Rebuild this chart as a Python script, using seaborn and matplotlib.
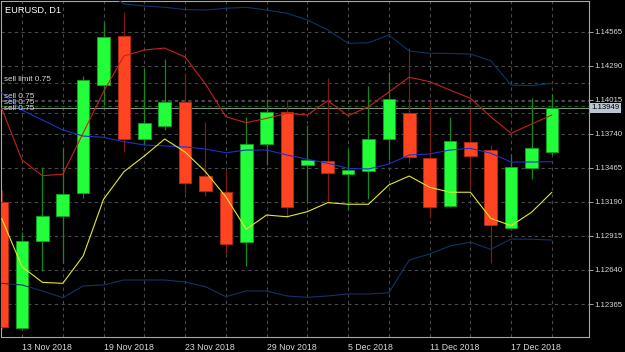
import matplotlib
matplotlib.use("Agg")
import matplotlib.pyplot as plt
import matplotlib.transforms as mtransforms
import seaborn as sns
import numpy as np

# ---------------- data ----------------
dates = ["12 Nov 2018", "13 Nov 2018", "14 Nov 2018", "15 Nov 2018", "16 Nov 2018",
         "19 Nov 2018", "20 Nov 2018", "21 Nov 2018", "22 Nov 2018", "23 Nov 2018",
         "26 Nov 2018", "27 Nov 2018", "28 Nov 2018", "29 Nov 2018", "30 Nov 2018",
         "3 Dec 2018", "4 Dec 2018", "5 Dec 2018", "6 Dec 2018", "7 Dec 2018",
         "10 Dec 2018", "11 Dec 2018", "12 Dec 2018", "13 Dec 2018", "14 Dec 2018",
         "17 Dec 2018", "18 Dec 2018", "19 Dec 2018"]

opens = [1.13192, 1.12174, 1.12877, 1.13074, 1.13259, 1.14134, 1.14530, 1.13698,
         1.13806, 1.14000, 1.13399, 1.13268, 1.12864, 1.13658, 1.13914, 1.13488,
         1.13520, 1.13413, 1.13440, 1.13696, 1.13906, 1.13545, 1.13159, 1.13674,
         1.13609, 1.12982, 1.13466, 1.13591]
highs = [1.13286, 1.12949, 1.13474, 1.13625, 1.14207, 1.14646, 1.14727, 1.14269,
         1.14342, 1.14229, 1.13838, 1.13442, 1.13878, 1.14019, 1.14013, 1.13811,
         1.14193, 1.13615, 1.14129, 1.14242, 1.14431, 1.14013, 1.13878, 1.13946,
         1.13650, 1.13577, 1.14027, 1.14059]
lows = [1.12163, 1.12163, 1.12634, 1.12696, 1.13221, 1.13973, 1.13596, 1.13650,
        1.13771, 1.13264, 1.13238, 1.12775, 1.12672, 1.13488, 1.13070, 1.13192,
        1.13192, 1.13125, 1.13211, 1.13528, 1.13507, 1.13058, 1.13151, 1.13308,
        1.12699, 1.12979, 1.13373, 1.13569]
closes = [1.12177, 1.12877, 1.13074, 1.13254, 1.14175, 1.14525, 1.13698, 1.13825,
          1.14000, 1.13345, 1.13276, 1.12847, 1.13658, 1.13919, 1.13151, 1.13528,
          1.13421, 1.13448, 1.13696, 1.14019, 1.13550, 1.13151, 1.13682, 1.13563,
          1.13003, 1.13474, 1.13623, 1.13949]

ma_red = [1.13946, 1.13528, 1.13402, 1.13413, 1.13747, 1.14080, 1.14369, 1.14417,
          1.14433, 1.14361, 1.14142, 1.13878, 1.13830, 1.13865, 1.13906, 1.13892,
          1.14008, 1.13886, 1.13959, 1.14078, 1.14197, 1.14161, 1.14094, 1.14027,
          1.13878, 1.13744, 1.13819, 1.13892]
bb_mid = [1.14072, 1.13932, 1.13852, 1.13771, 1.13722, 1.13712, 1.13676, 1.13650,
          1.13642, 1.13634, 1.13617, 1.13587, 1.13609, 1.13609, 1.13569, 1.13534,
          1.13502, 1.13461, 1.13456, 1.13496, 1.13569, 1.13577, 1.13609, 1.13623,
          1.13583, 1.13512, 1.13512, 1.13515]
bb_upper = [1.15613, 1.15346, 1.15233, 1.15128, 1.14934, 1.14902, 1.14789, 1.14773,
            1.14762, 1.14744, 1.14740, 1.14754, 1.14762, 1.14740, 1.14714, 1.14660,
            1.14579, 1.14471, 1.14476, 1.14538, 1.14409, 1.14391, 1.14389, 1.14385,
            1.14331, 1.14134, 1.14129, 1.14148]
bb_lower = [1.12532, 1.12519, 1.12470, 1.12416, 1.12511, 1.12519, 1.12559, 1.12559,
            1.12559, 1.12543, 1.12505, 1.12424, 1.12470, 1.12470, 1.12430, 1.12419,
            1.12430, 1.12446, 1.12446, 1.12456, 1.12721, 1.12769, 1.12834, 1.12864,
            1.12807, 1.12890, 1.12888, 1.12882]
ma_yellow = [1.13057, 1.12666, 1.12540, 1.12532, 1.12753, 1.13211, 1.13434, 1.13561,
             1.13698, 1.13593, 1.13434, 1.13232, 1.12969, 1.13084, 1.13070, 1.13111,
             1.13184, 1.13171, 1.13171, 1.13327, 1.13399, 1.13308, 1.13268, 1.13268,
             1.13057, 1.12998, 1.13106, 1.13268]

price_ticks = [1.12365, 1.12640, 1.12915, 1.13190, 1.13465, 1.13740, 1.14015, 1.14290, 1.14565]
current_price = 1.13949
order_prices = [1.14148, 1.14008, 1.13962, 1.13911]
order_labels = ["sell limit 0.75", "sell 0.75", "sell 0.75", "sell 0.75"]
title_text = "EURUSD, D1"

# ---------------- style ----------------
sns.set_style("dark", rc={"axes.facecolor": "black", "figure.facecolor": "black"})
plt.rcParams["font.family"] = ["Liberation Sans", "DejaVu Sans"]

BULL = "#22ff3a"
BULL_EDGE = "#12a020"
BULL_WICK = "#138a13"
BEAR = "#ff4422"
BEAR_EDGE = "#b02a14"
BEAR_WICK = "#7e1c10"
GRID = "#4a4a4a"
FRAME = "#a8a8a8"
TXT = "#d8d8d8"
FS = 6.3
FS_Y = 5.6
FS_ORD = 5.9

fig = plt.figure(figsize=(6.25, 3.52), dpi=100)
ax = fig.add_axes([1.5 / 625, 15 / 352, 587.5 / 625, 336 / 352])
ax.set_facecolor("black")

n = len(opens)
idx = np.arange(n)
ax.set_xlim(-0.007, 28.82)
ax.set_ylim(1.120985, 1.14813)

# grid
for p in price_ticks:
    ax.axhline(p, color=GRID, lw=0.8, ls=(0, (3, 3)), zorder=1)
for i in range(1, n, 2):
    ax.axvline(i, color=GRID, lw=0.8, ls=(0, (3, 3)), zorder=1)

# order lines + current price line
for p in order_prices:
    ax.axhline(p, color="#0e6e0e", lw=0.8, ls=(0, (3, 3)), zorder=1.5)
ax.axhline(current_price, color="#8a8a8a", lw=0.8, zorder=1.6)

# candles
o = np.array(opens); c = np.array(closes); h = np.array(highs); l = np.array(lows)
up = c >= o
for mask, wc in ((up, BULL_WICK), (~up, BEAR_WICK)):
    ax.vlines(idx[mask], l[mask], h[mask], color=wc, lw=0.9, zorder=2)
bottoms = np.minimum(o, c)
heights = np.abs(c - o)
ax.bar(idx[up], heights[up], bottom=bottoms[up], width=0.62, color=BULL,
       edgecolor=BULL_EDGE, linewidth=0.7, zorder=3)
ax.bar(idx[~up], heights[~up], bottom=bottoms[~up], width=0.62, color=BEAR,
       edgecolor=BEAR_EDGE, linewidth=0.7, zorder=3)

# indicators (drawn over the candles)
for series, col in ((bb_upper, "#0d3566"), (bb_lower, "#0d3566"),
                    (bb_mid, "#2030c8"), (ma_red, "#c82020"), (ma_yellow, "#e6e62a")):
    sns.lineplot(x=idx, y=series, color=col, lw=0.8, ax=ax, zorder=4)

# order labels
for p, lab in zip(order_prices, order_labels):
    ax.annotate(lab, xy=(0.14, p), xytext=(0, 0.2), textcoords="offset points",
                color=TXT, fontsize=FS_ORD, ha="left", va="bottom", zorder=6)

ax.text(0.006, 0.985, title_text, transform=ax.transAxes, color="white",
        fontsize=FS + 0.4, ha="left", va="top", zorder=6)

# axes / ticks
ax.yaxis.tick_right()
ax.set_yticks(price_ticks)
ax.set_yticklabels([f"{p:.5f}" for p in price_ticks])
label_idx = list(range(1, n, 4))
ax.set_xticks(label_idx)
ax.set_xticklabels([dates[i] for i in label_idx], ha="left")
ax.tick_params(axis="both", colors=FRAME, labelcolor=TXT,
               length=3, width=0.7, direction="out")
ax.tick_params(axis="y", pad=1, labelsize=FS_Y)
ax.tick_params(axis="x", pad=1.5, labelsize=FS)
ax.set_xlabel("")
ax.set_ylabel("")
ax.grid(False)
for s in ax.spines.values():
    s.set_visible(True)
    s.set_color(FRAME)
    s.set_linewidth(0.8)

# current price tag on the right axis
trans = mtransforms.blended_transform_factory(ax.transAxes, ax.transData)
ax.text(1.004, current_price, f"{current_price:.5f}", transform=trans,
        color="black", fontsize=FS_Y, ha="left", va="center", zorder=10,
        bbox=dict(facecolor="#b8c5d2", edgecolor="none", pad=1.0), clip_on=False)

fig.savefig("out.png", dpi=100, facecolor="black")
